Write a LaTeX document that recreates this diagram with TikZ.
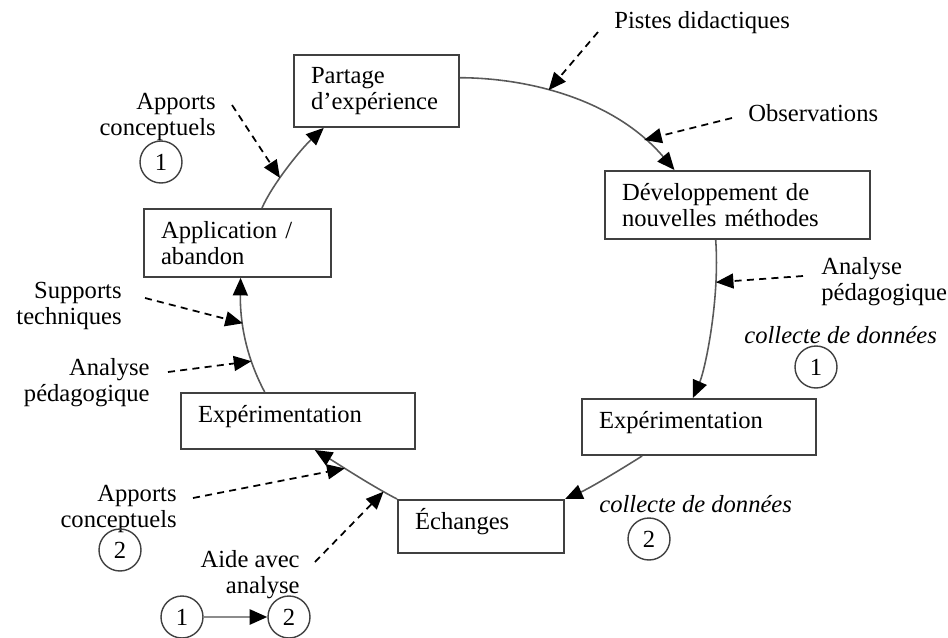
\documentclass[tikz,border=0pt]{standalone}
\usepackage{fontspec}
\setmainfont{Liberation Serif}
\usetikzlibrary{arrows.meta}
\newcommand{\policefig}{\fontsize{14}{14.7}\selectfont}
\tikzset{every node/.style={font=\policefig, inner sep=0pt},
  etape/.style={draw=black!75, line width=1.2pt, anchor=north west, align=left, inner xsep=0.34cm, inner ysep=7pt},
  cycle/.style={draw=black!65, line width=0.9pt, -{Triangle[length=10pt,width=8.5pt,color=black]}},
  apport/.style={black, line width=1pt, dash pattern=on 4pt off 3pt, -{Triangle[length=10pt,width=8.5pt]}},
  numero/.style={draw=black!75, line width=0.8pt, circle, minimum size=0.84cm},
  legende/.style={draw=black!45, line width=1.5pt, -{Triangle[length=10pt,width=8.5pt,color=black]}}}

\begin{document}
\begin{tikzpicture}[x=0.02cm,y=-0.02cm]
  \useasboundingbox (0,0) rectangle (948,637);
  \node[etape, text width=2.62cm] (partage) at (293,54) {Partage\\d'expérience};
  \node[etape, text width=4.62cm] (dev) at (604,170) {Développement de\\nouvelles méthodes};
  \node[etape, text width=4.00cm, text height=9.6pt, text depth=8.2pt] (expd) at (581,398) {Expérimentation};
  \node[etape, text width=2.64cm, text height=9.6pt, text depth=6.4pt] (echanges) at (397,499) {Échanges};
  \node[etape, text width=4.00cm, text height=9.6pt, text depth=8.2pt] (expg) at (180,392) {Expérimentation};
  \node[etape, text width=3.06cm] (appl) at (143,208) {Application /\\abandon};

  \draw[cycle] (partage.9) .. controls (530,78) and (615,100) .. (dev.151)
     coordinate[pos=0.4] (p-pistes) coordinate[pos=0.84] (p-obs);
  \draw[cycle] (dev.238) .. controls (720,300) and (705,370) .. (expd.102)
     coordinate[pos=0.23] (p-anad);
  \draw[cycle] (expd.207) .. controls (620,470) and (590,488) .. (echanges.north east);
  \draw[cycle] (echanges.north west) .. controls (370,485) and (335,462) .. (expg.300)
     coordinate[pos=0.16] (p-aide) coordinate[pos=0.6] (p-apc2);
  \draw[cycle] (expg.139) .. controls (245,355) and (240,320) .. (appl.275)
     coordinate[pos=0.28] (p-anag) coordinate[pos=0.62] (p-supp);
  \draw[cycle] (appl.55) .. controls (272,185) and (300,150) .. (partage.215)
     coordinate[pos=0.38] (p-apc1);

  \node[anchor=base west] (pistes) at (614,28) {Pistes didactiques};
  \node[anchor=base west] (obs) at (748,121) {Observations};
  \node[anchor=north west, align=left] (anad) at (821,257) {Analyse\\pédagogique};
  \node[anchor=base west, font=\policefig\itshape] (colld) at (744,343) {collecte de données};
  \node[numero] (n1d) at (816,367) {1};
  \node[anchor=base west, font=\policefig\itshape] (collb) at (599,512) {collecte de données};
  \node[numero] (n2b) at (649,539) {2};
  \node[anchor=north east, align=right] (apc1) at (216,93) {Apports\\conceptuels};
  \node[numero] (n1g) at (161,162) {1};
  \node[anchor=north east, align=right] (supp) at (122,282) {Supports\\techniques};
  \node[anchor=north east, align=right] (anag) at (150,358) {Analyse\\pédagogique};
  \node[anchor=north east, align=right] (apc2) at (177,485) {Apports\\conceptuels};
  \node[numero] (n2g) at (120,550) {2};
  \node[anchor=north east, align=right] (aide) at (300,550) {Aide avec\\analyse};
  \node[numero] (leg1) at (182,617) {1};
  \node[numero] (leg2) at (289,617) {2};

  \draw[apport] ([shift={(-16,4)}]pistes.base west) -- (p-pistes);
  \draw[apport] ([shift={(-16,-3)}]obs.base west) -- (p-obs);
  \draw[apport] ([shift={(-18,19)}]anad.north west) -- (p-anad);
  \draw[apport] ([shift={(16,12)}]apc1.north east) -- (p-apc1);
  \draw[apport] ([shift={(23,16)}]supp.north east) -- (p-supp);
  \draw[apport] ([shift={(18,14)}]anag.north east) -- (p-anag);
  \draw[apport] ([shift={(16,13)}]apc2.north east) -- (p-apc2);
  \draw[apport] ([shift={(15,12)}]aide.north east) -- (p-aide);
  \draw[legende] (leg1) -- (leg2);
\end{tikzpicture}
\end{document}
